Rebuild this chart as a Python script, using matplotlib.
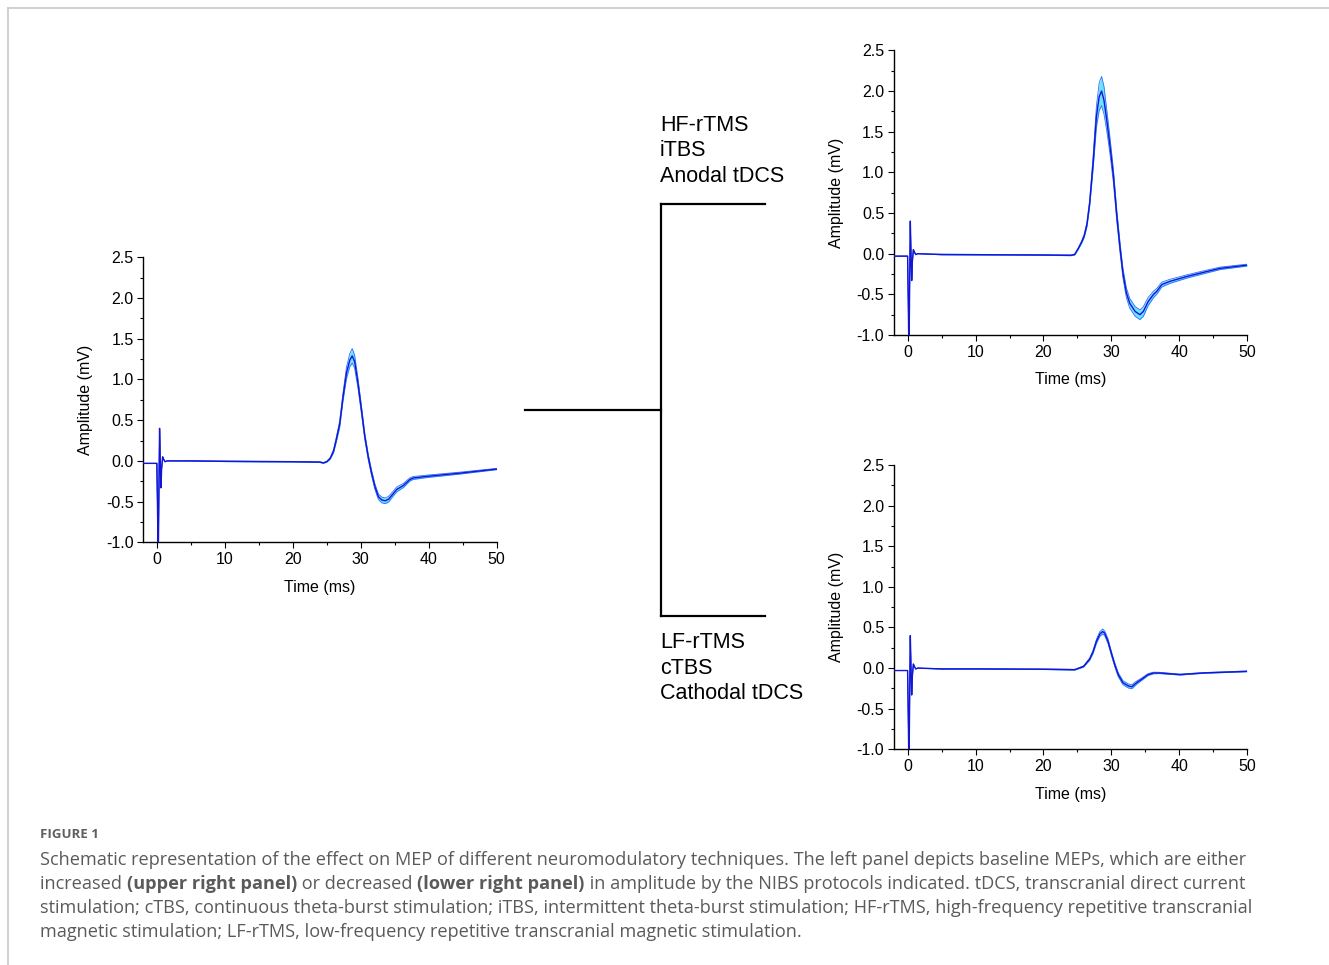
import numpy as np
import matplotlib
matplotlib.use("Agg")
import matplotlib.pyplot as plt
from matplotlib.lines import Line2D
from matplotlib.ticker import MultipleLocator

plt.rcParams['font.family'] = ['Liberation Sans', 'DejaVu Sans']

W, H = 1329, 965

# stimulus artifact (same in all three recordings)
t_art = [-2.0, 0.0, 0.1, 0.2, 0.3, 0.4, 0.5, 0.6, 0.7, 0.85, 1.0, 1.2, 1.5]
v_art = [-0.03, -0.03, -0.6, -1.3, -0.4, 0.40, 0.0, -0.33, -0.1, 0.05, 0.02, -0.01, 0.0]

# baseline MEP (left panel)
t_base = [5, 10, 15, 20, 24.0, 24.5, 25.0, 25.5, 26.0, 26.4, 26.9, 27.4, 27.9, 28.4,
          28.75, 29.1, 29.6, 30.1, 30.6, 31.1, 31.6, 32.1, 32.6, 33.1, 33.6, 34.1,
          34.8, 35.3, 36.3, 37.2, 37.7, 39.7, 44.6, 50.0]
mep_base = [0.0, -0.005, -0.008, -0.01, -0.015, -0.025, -0.01, 0.03, 0.12, 0.26, 0.45,
            0.79, 1.08, 1.24, 1.29, 1.22, 0.95, 0.63, 0.30, 0.05, -0.15, -0.32, -0.44,
            -0.48, -0.49, -0.47, -0.40, -0.35, -0.30, -0.23, -0.21, -0.19, -0.15, -0.10]
sem_base = [0.004, 0.004, 0.004, 0.004, 0.005, 0.005, 0.006, 0.01, 0.02, 0.03, 0.04,
            0.05, 0.07, 0.08, 0.09, 0.08, 0.06, 0.05, 0.04, 0.035, 0.035, 0.035, 0.035,
            0.035, 0.035, 0.035, 0.03, 0.03, 0.025, 0.02, 0.018, 0.015, 0.012, 0.008]

# increased MEP (upper right panel)
t_up = [5, 10, 15, 20, 24.0, 24.6, 25.1, 25.6, 26.0, 26.4, 26.8, 27.3, 27.8, 28.2,
        28.55, 28.9, 29.3, 29.8, 30.3, 30.8, 31.3, 31.7, 32.2, 32.7, 33.5, 34.2, 34.7,
        35.4, 36.2, 36.7, 37.4, 38.6, 41.1, 43.5, 46.0, 50.0]
mep_up = [-0.01, -0.012, -0.014, -0.016, -0.02, -0.01, 0.06, 0.14, 0.22, 0.36, 0.62,
          1.11, 1.69, 1.93, 2.00, 1.89, 1.65, 1.32, 0.95, 0.46, 0.05, -0.24, -0.48,
          -0.61, -0.71, -0.75, -0.71, -0.59, -0.50, -0.46, -0.38, -0.34, -0.28, -0.23,
          -0.18, -0.14]
sem_up = [0.004, 0.004, 0.004, 0.004, 0.005, 0.006, 0.01, 0.015, 0.02, 0.03, 0.04,
          0.08, 0.13, 0.17, 0.18, 0.17, 0.13, 0.10, 0.08, 0.07, 0.06, 0.06, 0.06, 0.06,
          0.06, 0.06, 0.06, 0.05, 0.04, 0.035, 0.03, 0.025, 0.02, 0.018, 0.015, 0.012]

# decreased MEP (lower right panel)
t_down = [5, 10, 15, 20, 24.6, 25.9, 26.8, 27.3, 27.8, 28.3, 28.7, 29.0, 29.5, 30.0,
          30.5, 31.0, 31.7, 32.5, 33.0, 33.7, 34.4, 35.4, 36.2, 37.1, 40.1, 43.5, 50.0]
mep_down = [-0.01, -0.01, -0.012, -0.014, -0.02, 0.02, 0.11, 0.20, 0.33, 0.42, 0.45,
            0.43, 0.33, 0.18, 0.04, -0.08, -0.18, -0.22, -0.23, -0.18, -0.14, -0.08,
            -0.06, -0.06, -0.08, -0.06, -0.04]
sem_down = [0.004, 0.004, 0.004, 0.004, 0.005, 0.008, 0.015, 0.02, 0.025, 0.03, 0.03,
            0.03, 0.03, 0.025, 0.025, 0.025, 0.025, 0.025, 0.025, 0.02, 0.015, 0.012,
            0.01, 0.008, 0.006, 0.005, 0.005]

upper_labels = ["HF-rTMS", "iTBS", "Anodal tDCS"]
lower_labels = ["LF-rTMS", "cTBS", "Cathodal tDCS"]

caption_title = "FIGURE 1"
caption_lines = [
    [("Schematic representation of the effect on MEP of different neuromodulatory techniques. "
      "The left panel depicts baseline MEPs, which are either", "normal")],
    [("increased ", "normal"), ("(upper right panel)", "bold"), (" or decreased ", "normal"),
     ("(lower right panel)", "bold"),
     (" in amplitude by the NIBS protocols indicated. tDCS, transcranial direct current", "normal")],
    [("stimulation; cTBS, continuous theta-burst stimulation; iTBS, intermittent theta-burst "
      "stimulation; HF-rTMS, high-frequency repetitive transcranial", "normal")],
    [("magnetic stimulation; LF-rTMS, low-frequency repetitive transcranial magnetic "
      "stimulation.", "normal")],
]


def fx(x):
    return x / W


def fy(y):
    return 1 - y / H


def draw_mep(ax, t, mep, sem):
    t_all = np.array(t_art + t)
    m_all = np.array(v_art + mep)
    s_all = np.array([0.0] * len(t_art) + sem)
    lo = m_all - s_all
    hi = m_all + s_all
    ax.fill_between(t_all, lo, hi, color='#6fe2ff', lw=0, zorder=2)
    ax.plot(t_all, lo, color='#2f6cff', lw=0.6, zorder=3)
    ax.plot(t_all, hi, color='#2f6cff', lw=0.6, zorder=3)
    ax.plot(t_all, m_all, color='#1414d2', lw=1.0, zorder=4)
    ax.set_xlim(-2, 50)
    ax.set_ylim(-1.0, 2.5)
    for s in ['top', 'right']:
        ax.spines[s].set_visible(False)
    for s in ['left', 'bottom']:
        ax.spines[s].set_linewidth(1.0)
    ax.xaxis.set_major_locator(MultipleLocator(10))
    ax.xaxis.set_minor_locator(MultipleLocator(5))
    ax.yaxis.set_major_locator(MultipleLocator(0.5))
    ax.yaxis.set_minor_locator(MultipleLocator(0.25))
    ax.yaxis.set_major_formatter(plt.FuncFormatter(lambda v, p: f"{v:.1f}"))
    ax.tick_params(which='major', length=4, width=0.8, labelsize=11.5, pad=3)
    ax.tick_params(which='minor', length=2.5, width=0.8)
    ax.set_xlabel("Time (ms)", fontsize=11.5, labelpad=9)
    ax.set_ylabel("Amplitude (mV)", fontsize=11.5, labelpad=9)


fig = plt.figure(figsize=(W / 100, H / 100), dpi=100)

ax_l = fig.add_axes([0.1078, 0.4380, 0.2659, 0.2953])
ax_u = fig.add_axes([0.6727, 0.6528, 0.2658, 0.2950])
ax_d = fig.add_axes([0.6727, 0.2235, 0.2658, 0.2946])
draw_mep(ax_l, t_base, mep_base, sem_base)
draw_mep(ax_u, t_up, mep_up, sem_up)
draw_mep(ax_d, t_down, mep_down, sem_down)

# bracket
segs = [((525, 661), (410, 410)), ((661, 661), (204, 616)),
        ((661, 765), (204, 204)), ((661, 765), (616, 616))]
for xs, ys in segs:
    fig.add_artist(Line2D([fx(xs[0]), fx(xs[1])], [fy(ys[0]), fy(ys[1])],
                          color='black', lw=1.6, transform=fig.transFigure))

for i, lab in enumerate(upper_labels):
    fig.text(fx(660), fy(131 + 25.5 * i), lab, fontsize=15.5, va='baseline', ha='left')
for i, lab in enumerate(lower_labels):
    fig.text(fx(660), fy(648 + 25.5 * i), lab, fontsize=15.5, va='baseline', ha='left')

# frame of the figure page
fig.add_artist(Line2D([fx(8), 1], [fy(8), fy(8)], color='#c8c8c8', lw=1.2,
                      transform=fig.transFigure))
fig.add_artist(Line2D([fx(8), fx(8)], [fy(8), 0], color='#c8c8c8', lw=1.2,
                      transform=fig.transFigure))

# caption
cap_font = ['Open Sans', 'DejaVu Sans']
fig.text(fx(40), fy(838), caption_title, fontsize=9.5, fontweight='bold',
         color='#606060', family=cap_font, va='baseline')

fig.canvas.draw()
renderer = fig.canvas.get_renderer()
for i, parts in enumerate(caption_lines):
    x = 40
    y = 865 + 24 * i
    for txt, wt in parts:
        t = fig.text(fx(x), fy(y), txt, fontsize=13.1, fontweight=wt,
                     color='#5a5a5a', family=cap_font, va='baseline')
        bb = t.get_window_extent(renderer)
        x += bb.width

fig.savefig("out.png", dpi=100)
